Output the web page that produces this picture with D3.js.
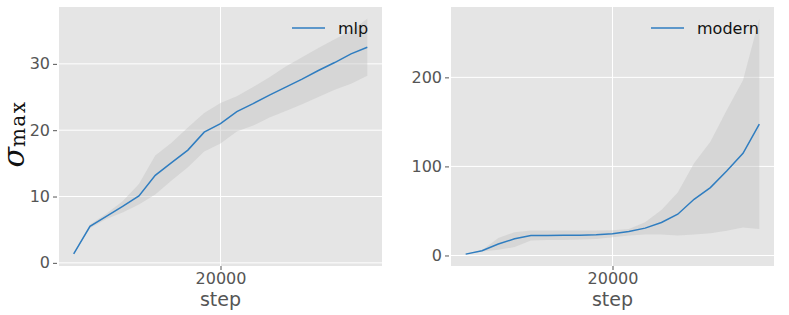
<!DOCTYPE html>
<html lang="en">
<head>
<meta charset="UTF-8">
<title>sigma max vs step</title>
<script src="https://d3js.org/d3.v7.min.js"></script>
<style>
  body { margin: 0; background: #fff; }
  svg text { font-family: "DejaVu Sans", sans-serif; }
</style>
</head>
<body>
<svg id="chart" width="789" height="315"></svg>
<script>
// steps shared by both runs
const steps = [2000, 4000, 6000, 8000, 10000, 12000, 14000, 16000, 18000, 20000,
               22000, 24000, 26000, 28000, 30000, 32000, 34000, 36000, 38000];

const mlpMean  = [1.35, 5.5, 7.0, 8.5, 10.1, 13.2, 15.1, 17.0, 19.7, 21.0,
                  22.8, 24.0, 25.3, 26.5, 27.7, 29.0, 30.2, 31.5, 32.5];
const mlpUpper = [1.4, 5.8, 7.4, 9.3, 11.9, 16.2, 18.1, 20.4, 22.6, 24.1,
                  25.1, 26.5, 28.0, 29.6, 31.0, 32.4, 33.7, 35.0, 36.8];
const mlpLower = [1.3, 5.2, 6.6, 7.6, 8.8, 10.3, 12.4, 14.4, 16.8, 18.0,
                  19.8, 20.7, 21.9, 22.9, 23.9, 25.0, 26.1, 27.0, 28.2];

const modernMean  = [1.5, 5.3, 12.8, 18.7, 22.4, 22.5, 22.6, 22.8, 23.2, 24.3,
                     26.9, 30.7, 37.0, 46.3, 63.1, 76.2, 94.8, 114.7, 147.5];
const modernUpper = [1.6, 6.0, 19.5, 26.2, 28.0, 28.0, 28.0, 28.0, 28.0, 28.4,
                     29.6, 37.4, 51.2, 70.6, 103.5, 127.7, 163.0, 196.8, 265.8];
const modernLower = [1.4, 4.5, 6.4, 9.4, 16.8, 17.5, 17.5, 17.8, 18.5, 20.6,
                     22.5, 23.5, 23.5, 22.4, 23.5, 25.0, 27.7, 31.4, 29.6];

const yTicksMlp = [0, 10, 20, 30];
const yTicksModern = [0, 100, 200];
const xTicks = [20000];

const svg = d3.select("#chart");
const plotTop = 7, plotBottom = 266;

function panel(left, right, mean, upper, lower, yTicks, name) {
  const data = steps.map((s, i) => ({ s, m: mean[i], u: upper[i], l: lower[i] }));

  // matplotlib-like 5% margins
  const xPad = (d3.max(steps) - d3.min(steps)) * 0.05;
  const yMin = d3.min(lower), yMax = d3.max(upper);
  const yPad = (yMax - yMin) * 0.05;

  const x = d3.scaleLinear().domain([d3.min(steps) - xPad, d3.max(steps) + xPad]).range([left, right]);
  const y = d3.scaleLinear().domain([yMin - yPad, yMax + yPad]).range([plotBottom, plotTop]);

  const g = svg.append("g");

  g.append("rect")
    .attr("x", left).attr("y", plotTop)
    .attr("width", right - left).attr("height", plotBottom - plotTop)
    .attr("fill", "#e5e5e5");

  // grid
  g.selectAll(".hgrid").data(yTicks).enter().append("line")
    .attr("x1", left).attr("x2", right)
    .attr("y1", d => y(d)).attr("y2", d => y(d))
    .attr("stroke", "#fff").attr("stroke-width", 1);
  g.selectAll(".vgrid").data(xTicks).enter().append("line")
    .attr("y1", plotTop).attr("y2", plotBottom)
    .attr("x1", d => x(d)).attr("x2", d => x(d))
    .attr("stroke", "#fff").attr("stroke-width", 1);

  // band
  g.append("path").datum(data)
    .attr("d", d3.area().x(d => x(d.s)).y0(d => y(d.l)).y1(d => y(d.u)))
    .attr("fill", "#bdbdbd").attr("fill-opacity", 0.38);

  // mean line
  g.append("path").datum(data)
    .attr("d", d3.line().x(d => x(d.s)).y(d => y(d.m)))
    .attr("fill", "none").attr("stroke", "#2f7dc0").attr("stroke-width", 1.5);

  // y axis
  const yAxis = d3.axisLeft(y).tickValues(yTicks).tickSize(4).tickPadding(3).tickFormat(d3.format("d"));
  const ya = g.append("g").attr("transform", `translate(${left - 2},0)`).call(yAxis);
  ya.select(".domain").remove();
  ya.selectAll("line").attr("stroke", "#555");
  ya.selectAll("text").attr("fill", "#555").style("font-size", "16px");

  // x axis
  const xAxis = d3.axisBottom(x).tickValues(xTicks).tickSize(4).tickPadding(3).tickFormat(d3.format("d"));
  const xa = g.append("g").attr("transform", `translate(0,${plotBottom})`).call(xAxis);
  xa.select(".domain").remove();
  xa.selectAll("line").attr("stroke", "#555");
  xa.selectAll("text").attr("fill", "#555").style("font-size", "16px");

  g.append("text")
    .attr("x", (left + right) / 2).attr("y", 306)
    .attr("text-anchor", "middle")
    .attr("fill", "#555").style("font-size", "19px")
    .text("step");

  // legend
  const lx = right - 90 + (name === "mlp" ? 0 : -33);
  g.append("line")
    .attr("x1", lx).attr("x2", lx + 33).attr("y1", 28).attr("y2", 28)
    .attr("stroke", "#2f7dc0").attr("stroke-width", 1.5);
  g.append("text")
    .attr("x", lx + 46).attr("y", 34)
    .attr("fill", "#111").style("font-size", "16px")
    .text(name);
}

panel(59, 382, mlpMean, mlpUpper, mlpLower, yTicksMlp, "mlp");
panel(451, 774, modernMean, modernUpper, modernLower, yTicksModern, "modern");

// y label: sigma_max
const yl = svg.append("text")
  .attr("transform", "translate(24,134) rotate(-90)")
  .attr("text-anchor", "middle")
  .attr("fill", "#111");
yl.append("tspan")
  .style("font-family", "'DejaVu Serif', serif").style("font-style", "italic").style("font-size", "30px")
  .text("σ");
yl.append("tspan")
  .attr("dy", 1)
  .style("font-family", "'DejaVu Serif', serif").style("font-size", "20px")
  .style("letter-spacing", "1.5px")
  .text("max");
</script>
</body>
</html>
